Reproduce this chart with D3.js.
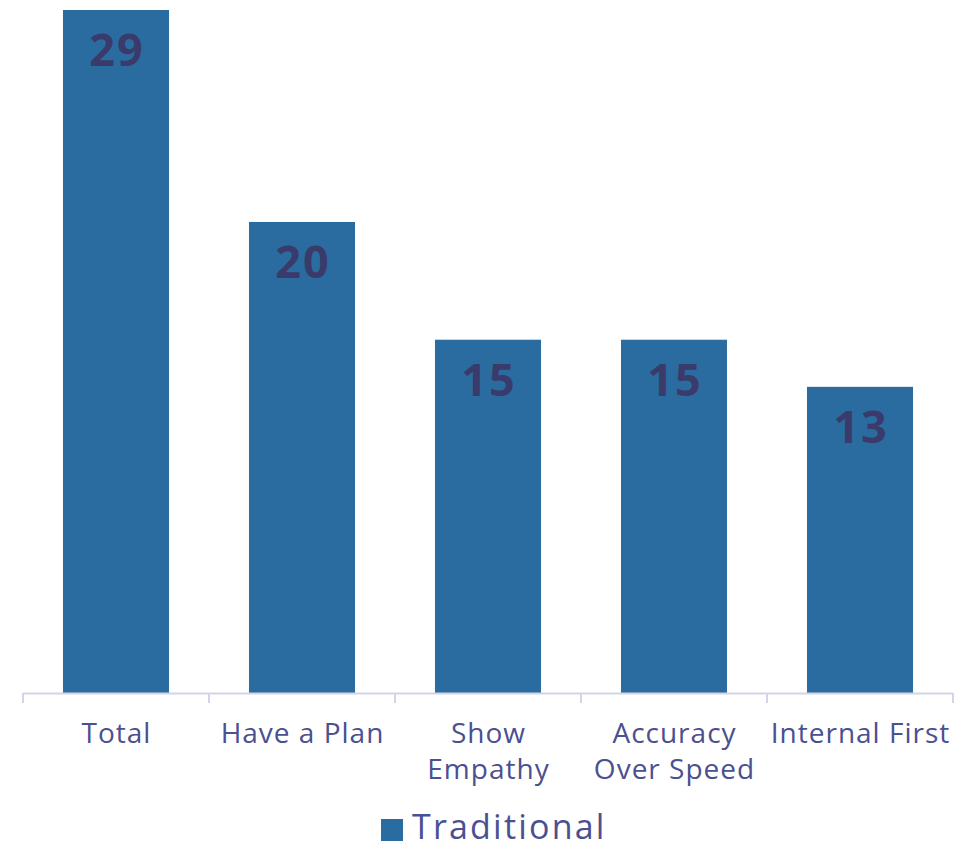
<!DOCTYPE html>
<html>
<head>
<meta charset="utf-8">
<script src="https://cdn.jsdelivr.net/npm/d3@7"></script>
<style>
  html, body { margin: 0; padding: 0; background: #ffffff; }
  svg { display: block; }
</style>
</head>
<body>
<svg id="chart" width="972" height="850"></svg>
<script>
// Category labels (each entry is split into lines) and series values
const categories = [
  ["Total"],
  ["Have a Plan"],
  ["Show", "Empathy"],
  ["Accuracy", "Over Speed"],
  ["Internal First"]
];
const seriesName = "Traditional";
const values = [29, 20, 15, 15, 13];

const width = 972, height = 850;
const margin = { top: 10, right: 19, bottom: 157, left: 23 };

const svg = d3.select("#chart");
const font = "'Open Sans', Lato, sans-serif";
const barColor = "#2a6c9f";
const labelColor = "#3a3a6b";
const textColor = "#4a5090";
const axisColor = "#d3d4e8";

const keys = categories.map(c => c.join(" "));

const x = d3.scaleBand()
  .domain(keys)
  .range([margin.left, width - margin.right])
  .paddingInner(0.43)
  .paddingOuter(0.215);

const y = d3.scaleLinear()
  .domain([0, d3.max(values)])
  .range([height - margin.bottom, margin.top]);

const data = keys.map((k, i) => ({ key: k, lines: categories[i], value: values[i] }));

// Bars
svg.append("g")
  .selectAll("rect")
  .data(data)
  .join("rect")
  .attr("x", d => x(d.key))
  .attr("y", d => y(d.value))
  .attr("width", x.bandwidth())
  .attr("height", d => y(0) - y(d.value))
  .attr("fill", barColor);

// Value labels inside the top of each bar
svg.append("g")
  .selectAll("text")
  .data(data)
  .join("text")
  .attr("x", d => x(d.key) + x.bandwidth() / 2 + 1)
  .attr("y", d => y(d.value) + 56)
  .attr("text-anchor", "middle")
  .attr("font-family", font)
  .attr("font-weight", 700)
  .attr("font-size", 45)
  .attr("letter-spacing", 2)
  .attr("fill", labelColor)
  .text(d => d.value);

// Category axis: baseline plus boundary ticks between categories
const axisY = y(0);
const step = x.step();
const x0 = margin.left;
const axisG = svg.append("g");
axisG.append("line")
  .attr("x1", x0).attr("x2", width - margin.right)
  .attr("y1", axisY + 0.5).attr("y2", axisY + 0.5)
  .attr("stroke", axisColor).attr("stroke-width", 2);
const boundaries = d3.range(keys.length + 1).map(i => x0 + i * step);
axisG.selectAll("line.tick")
  .data(boundaries)
  .join("line")
  .attr("class", "tick")
  .attr("x1", d => d).attr("x2", d => d)
  .attr("y1", axisY).attr("y2", axisY + 10)
  .attr("stroke", axisColor).attr("stroke-width", 2);

// Category labels
const catG = svg.append("g");
data.forEach(d => {
  const cx = x(d.key) + x.bandwidth() / 2 + 0.5;
  const t = catG.append("text")
    .attr("x", cx)
    .attr("y", 743)
    .attr("text-anchor", "middle")
    .attr("font-family", font)
    .attr("font-size", 28)
    .attr("letter-spacing", 1)
    .attr("fill", textColor);
  d.lines.forEach((line, i) => {
    t.append("tspan")
      .attr("x", cx)
      .attr("dy", i === 0 ? 0 : 36)
      .text(line);
  });
});

// Legend
const legend = svg.append("g");
legend.append("rect")
  .attr("x", 381).attr("y", 819)
  .attr("width", 22).attr("height", 22)
  .attr("fill", barColor);
legend.append("text")
  .attr("x", 412).attr("y", 839)
  .attr("font-family", font)
  .attr("font-size", 34)
  .attr("letter-spacing", 2.2)
  .attr("fill", textColor)
  .text(seriesName);
</script>
</body>
</html>
